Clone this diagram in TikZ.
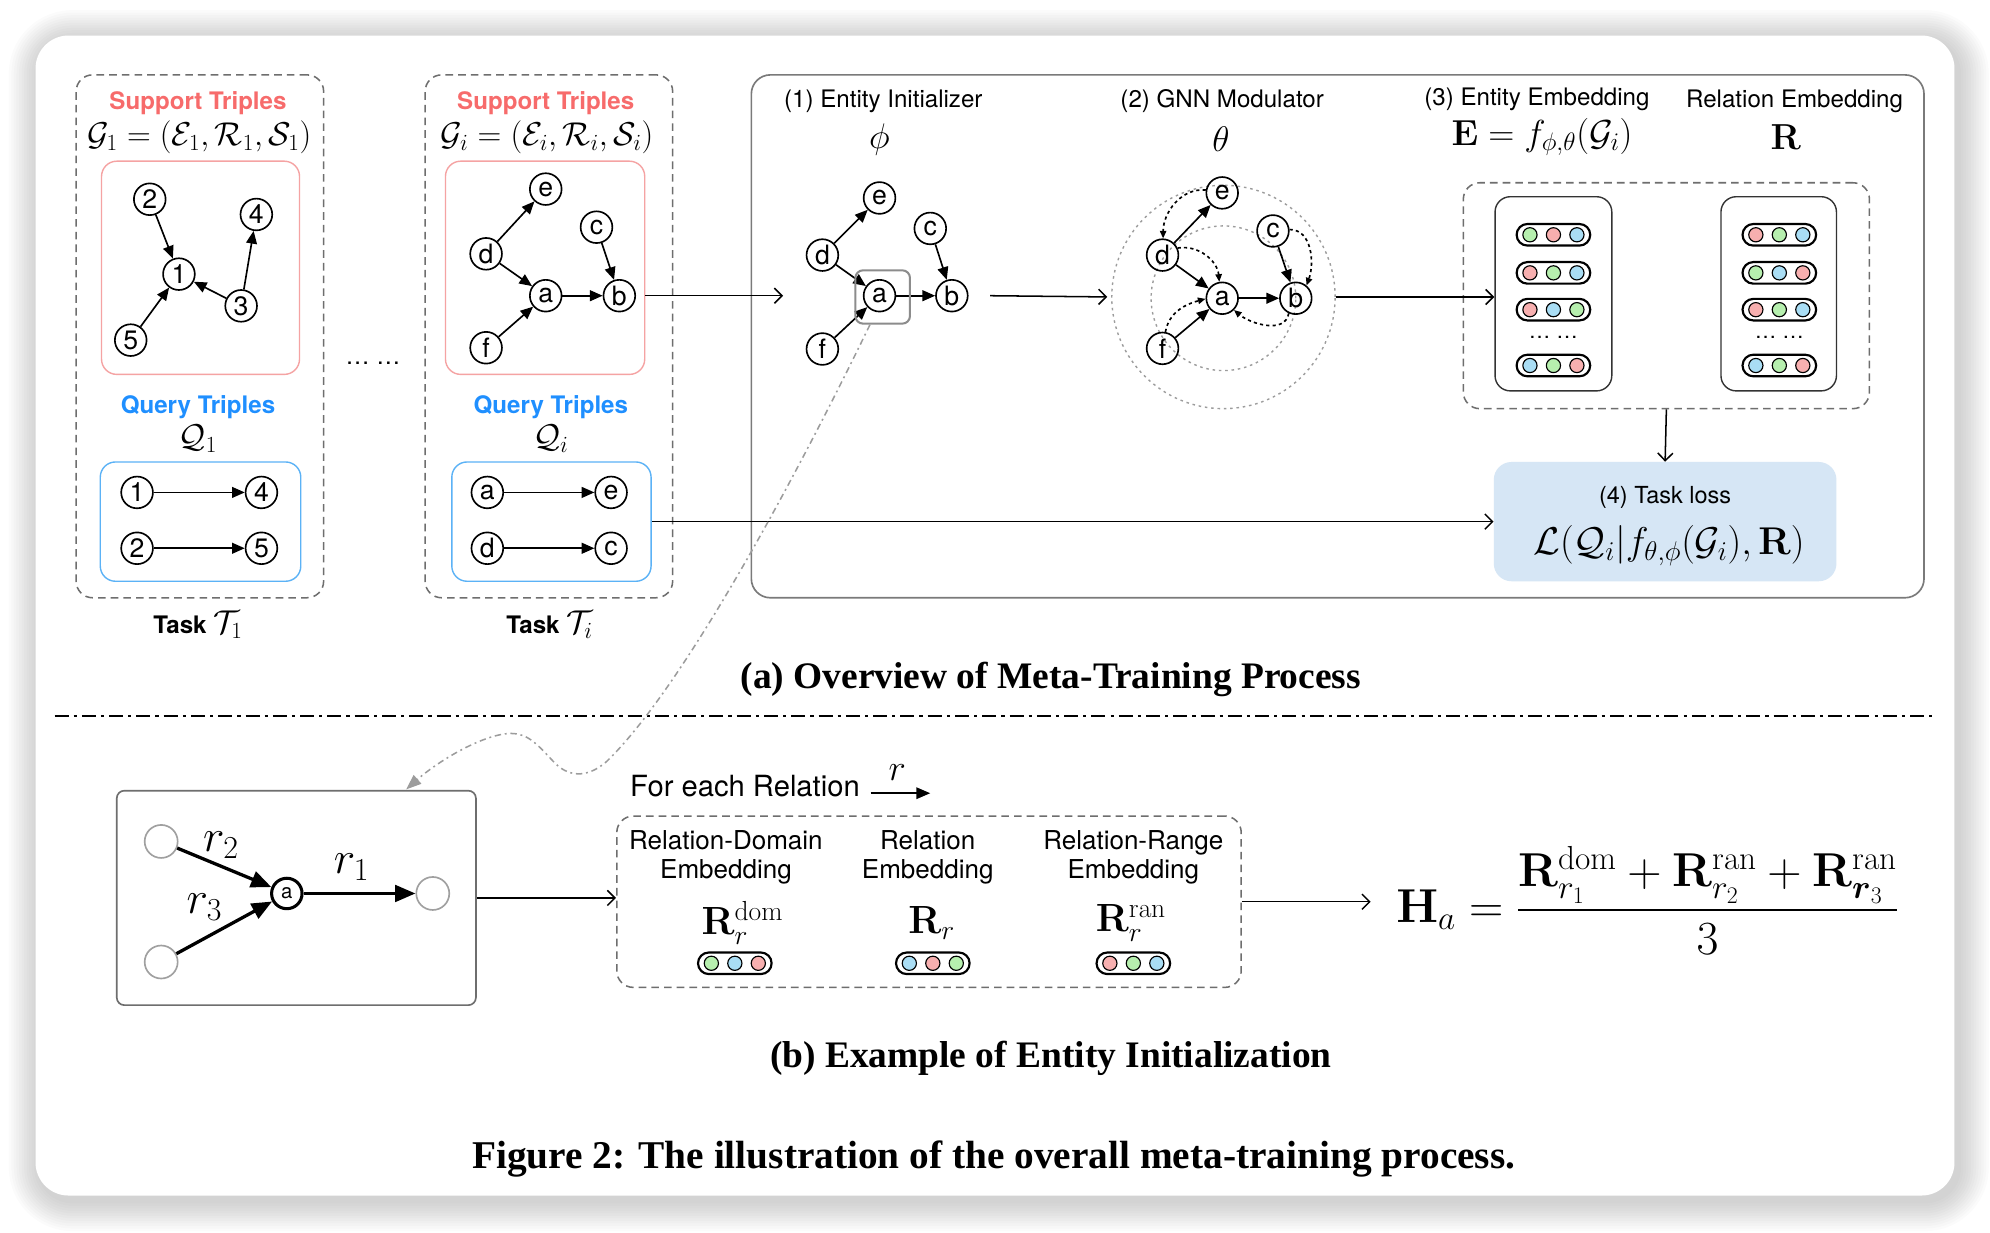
\documentclass[tikz,border=0pt]{standalone}
\usepackage{fix-cm}
\usepackage{amsmath,amssymb}
\usepackage[no-math]{fontspec}
\setmainfont{Liberation Serif}
\setsansfont{TeX Gyre Heros}
\usetikzlibrary{arrows.meta,calc}
\definecolor{supred}{HTML}{F76B6B}
\definecolor{pinkbox}{HTML}{F5A3A3}
\definecolor{qblue}{HTML}{1F8FFF}
\definecolor{bluebox}{HTML}{5BB2F6}
\definecolor{lossfill}{HTML}{D6E6F5}
\definecolor{dg}{HTML}{B6EFAE}
\definecolor{dr}{HTML}{F7AFAF}
\definecolor{db}{HTML}{A9DDF4}
\definecolor{boxgray}{HTML}{6E6E6E}
\definecolor{biggray}{HTML}{7A7A7A}
\definecolor{dotgray}{HTML}{9C9C9C}
\definecolor{hlgray}{HTML}{8C8C8C}
\definecolor{ggray}{HTML}{A0A0A0}
\newcommand\fsz[1]{\fontsize{#1}{#1}\selectfont}
\newcommand\sfn{\fsz{19}\sffamily}
\newcommand\sfb{\fsz{19}\sffamily\bfseries}
\tikzset{
  nd/.style={circle,draw,line width=1.3pt,minimum size=25pt,inner sep=0pt,font=\fsz{21}\sffamily},
  ed/.style={line width=1.3pt,-{Triangle[length=10pt,width=8.5pt]}},
  flow/.style={line width=1.2pt,-{Straight Barb[length=6pt,width=12pt,line width=1.2pt]}},
  dbox/.style={draw=boxgray,dash pattern=on 6pt off 4pt,line width=1.2pt,rounded corners=13pt,inner sep=0pt},
  pinkb/.style={draw=pinkbox,line width=1.1pt,rounded corners=12pt,inner sep=0pt},
  blueb/.style={draw=bluebox,line width=1.1pt,rounded corners=12pt,inner sep=0pt},
  panel/.style={draw=black!80,line width=1.1pt,rounded corners=12pt,inner sep=0pt},
  msg/.style={line width=1.3pt,dash pattern=on 2.5pt off 2.5pt,-{Triangle[length=6pt,width=5pt]}},
  dcirc/.style={circle,draw=dotgray,dash pattern=on 2pt off 3pt,line width=1.1pt,inner sep=0pt},
  bedge/.style={line width=2.6pt,-{Triangle[length=16pt,width=13pt]}},
  gnode/.style={circle,draw=ggray,line width=1.3pt,minimum size=26pt,inner sep=0pt},
  capt/.style={font=\fsz{29.5}\rmfamily\bfseries},
  coltxt/.style={font=\fontsize{20.5}{23.5}\selectfont\sffamily,align=center},
  pics/pill/.style n args={3}{code={
    \draw[line width=1.7pt,fill=white,rounded corners=8.5pt] (-29,-8.5) rectangle (29,8.5);
    \draw[line width=0.9pt,fill=#1] (-18.5,0) circle[radius=5.6pt];
    \draw[line width=0.9pt,fill=#2] (0,0) circle[radius=5.6pt];
    \draw[line width=0.9pt,fill=#3] (18.5,0) circle[radius=5.6pt];
  }}
}
\begin{document}
\begin{tikzpicture}[x=1pt,y=-1pt,every node/.style={inner sep=1pt}]
\useasboundingbox (0,0) rectangle (1568,971);
% card with shadow
\foreach \k [evaluate=\k as \rr using 26+2*\k, evaluate=\k as \dd using 2.0*\k] in {1,...,12}{
  \fill[black,opacity=0.014,rounded corners=\rr pt] ({28-\dd+3},{28-\dd+4}) rectangle ({1540+\dd+3},{942+\dd+4});
}
\fill[white,rounded corners=26pt] (28,28) rectangle (1540,942);

% ---------------- Task 1
\node[dbox,minimum width=195pt,minimum height=412pt] (T1) at (157.5,265) {};
\node[font=\sfb,text=supred] (st1) at (156,81) {Support Triples};
\node[font=\fsz{26}] (g1f) at (157,108) {$\mathcal{G}_1=(\mathcal{E}_1,\mathcal{R}_1,\mathcal{S}_1)$};
\node[pinkb,minimum width=156pt,minimum height=168pt] (P1) at (158,211) {};
\node[nd] (n2) at (118,157) {2};
\node[nd] (n4) at (202,169) {4};
\node[nd] (n1) at (141,216) {1};
\node[nd] (n3) at (190,241) {3};
\node[nd] (n5) at (103,268) {5};
\draw[ed] (n2) -- (n1);
\draw[ed] (n3) -- (n4);
\draw[ed] (n3) -- (n1);
\draw[ed] (n5) -- (n1);
\node[font=\sfb,text=qblue] (qt1) at (156,321) {Query Triples};
\node[font=\fsz{26}] (q1f) at (156,346) {$\mathcal{Q}_1$};
\node[blueb,minimum width=158pt,minimum height=94pt] (B1) at (158,411) {};
\node[nd] (q1) at (108,388) {1};
\node[nd] (q4) at (206,388) {4};
\node[nd] (q2) at (108,432) {2};
\node[nd] (q5) at (206,432) {5};
\draw[ed] (q1) -- (q4);
\draw[ed] (q2) -- (q5);
\node (tk1) at (156,492) {\sfb Task \fsz{26}$\mathcal{T}_1$};

\node[font=\sfn] (dots) at (294,286) {\ldots\ \ldots};

% ---------------- Task i
\node[dbox,minimum width=195pt,minimum height=412pt] (Ti) at (432.5,265) {};
\node[font=\sfb,text=supred] (sti) at (430,81) {Support Triples};
\node[font=\fsz{26}] (gif) at (431,108) {$\mathcal{G}_i=(\mathcal{E}_i,\mathcal{R}_i,\mathcal{S}_i)$};
\node[pinkb,minimum width=157pt,minimum height=168pt] (Pi) at (429.5,211) {};
\node[nd] (ie) at (430,149) {e};
\node[nd] (id) at (383,200) {d};
\node[nd] (ic) at (470,179) {c};
\node[nd] (ia) at (430,233) {a};
\node[nd] (ib) at (488,233) {b};
\node[nd] (if) at (383,274) {f};
\draw[ed] (id) -- (ie);
\draw[ed] (id) -- (ia);
\draw[ed] (ia) -- (ib);
\draw[ed] (ic) -- (ib);
\draw[ed] (if) -- (ia);
\node[font=\sfb,text=qblue] (qti) at (434,321) {Query Triples};
\node[font=\fsz{26}] (qif) at (434,346) {$\mathcal{Q}_i$};
\node[blueb,minimum width=157pt,minimum height=94pt] (Bi) at (434.5,411) {};
\node[nd] (qa) at (384,388) {a};
\node[nd] (qe) at (481.5,388) {e};
\node[nd] (qd) at (384,432) {d};
\node[nd] (qc) at (481.5,432) {c};
\draw[ed] (qa) -- (qe);
\draw[ed] (qd) -- (qc);
\node (tki) at (433,492) {\sfb Task \fsz{26}$\mathcal{T}_i$};

% ---------------- Overview box
\node[draw=biggray,line width=1.3pt,rounded corners=15pt,minimum width=924pt,minimum height=412pt,inner sep=0pt] (BIG) at (1054,265) {};

% (1) entity initializer
\node[font=\sfn] (l1) at (696,80) {(1) Entity Initializer};
\node[font=\fsz{28}] (phi) at (693,110) {$\phi$};
\node[nd] (ee) at (693,156) {e};
\node[nd] (ed) at (648,201) {d};
\node[nd] (ec) at (733,180) {c};
\node[nd] (ea) at (693,233) {a};
\node[nd] (eb) at (750,233) {b};
\node[nd] (ef) at (648,275) {f};
\draw[ed] (ed) -- (ee);
\draw[ed] (ed) -- (ea);
\draw[ed] (ea) -- (eb);
\draw[ed] (ec) -- (eb);
\draw[ed] (ef) -- (ea);
\node[draw=hlgray,line width=1.6pt,rounded corners=6pt,minimum width=43pt,minimum height=42pt,inner sep=0pt] (hl) at (695.5,234) {};
\coordinate (ein) at (617,233);
\draw[flow] (Pi.east |- ib) -- (ein);

% (2) GNN modulator
\node[font=\sfn] (l2) at (963,80) {(2) GNN Modulator};
\node[font=\fsz{28}] (tht) at (962,110) {$\theta$};
\node[dcirc,minimum size=176pt] (C1) at (964,234) {};
\node[dcirc,minimum size=114pt] (C2) at (964,235) {};
\node[nd] (ge) at (963,152) {e};
\node[nd] (gd) at (916,201) {d};
\node[nd] (gc) at (1003,182) {c};
\node[nd] (ga) at (963,235) {a};
\node[nd] (gb) at (1021,235) {b};
\node[nd] (gf) at (916,274.5) {f};
\draw[ed] (gd) -- (ge);
\draw[ed] (gd) -- (ga);
\draw[ed] (ga) -- (gb);
\draw[ed] (gc) -- (gb);
\draw[ed] (gf) -- (ga);
\draw[msg] (ge.170) to[out=175,in=90] (gd.88);
\draw[msg] (gd.25) to[out=10,in=95] (ga.100);
\draw[msg] (gc.5) to[out=0,in=70] (gb.50);
\draw[msg] (gb.-115) to[out=-100,in=-40] (ga.-45);
\draw[msg] (gf.80) to[out=80,in=195] (ga.182);
\draw[flow,shorten >=3pt] ([xshift=17pt]eb.east) -- (C1.west);

% (3) embeddings
\node[font=\sfn] (l3) at (1211,78) {(3) Entity Embedding};
\node[font=\fsz{28.5}] (ef3) at (1215,108) {$\mathbf{E}=f_{\phi,\theta}(\mathcal{G}_i)$};
\node[font=\sfn] (l3b) at (1414,80) {Relation Embedding};
\node[font=\fsz{28.5}] (rr3) at (1407,108) {$\mathbf{R}$};
\node[dbox,minimum width=320pt,minimum height=178pt] (EB) at (1313,233) {};
\node[panel,minimum width=92pt,minimum height=153pt] (LP) at (1224,231.5) {};
\node[panel,minimum width=91pt,minimum height=153pt] (RP) at (1401.5,231.5) {};
\pic (lp1) at (1224,185) {pill={dg}{dr}{db}};
\pic (lp2) at (1224,215) {pill={dr}{dg}{db}};
\pic (lp3) at (1224,244) {pill={dr}{db}{dg}};
\pic (lp4) at (1224,288) {pill={db}{dg}{dr}};
\node[font=\fsz{17}\sffamily] (ldots) at (1224,266) {\ldots\ \ldots};
\pic (rp1) at (1402,185) {pill={dr}{dg}{db}};
\pic (rp2) at (1402,215) {pill={dg}{db}{dr}};
\pic (rp3) at (1402,244) {pill={dr}{dg}{db}};
\pic (rp4) at (1402,288) {pill={db}{dg}{dr}};
\node[font=\fsz{17}\sffamily] (rdots) at (1402,266) {\ldots\ \ldots};
\draw[flow] (C1.east) -- (LP.west |- C1.east);

% (4) task loss
\node[fill=lossfill,rounded corners=14pt,minimum width=270pt,minimum height=94pt,inner sep=0pt] (TL) at (1312,411) {};
\node[font=\fsz{18.5}\sffamily] (l4) at (1312,392) {(4) Task loss};
\node[font=\fsz{30.5}] (lf) at (1315,430) {$\mathcal{L}(\mathcal{Q}_i|f_{\theta,\phi}(\mathcal{G}_i),\mathbf{R})$};
\draw[flow] (EB.south) -- (TL.north);
\draw[flow] (Bi.east) -- (TL.west);

% caption (a) and separator
\node[capt] (capa) at (828,535) {(a) Overview of Meta-Training Process};
\coordinate (sepL) at (43,564);
\coordinate (sepR) at (1522,564);
\draw[line width=1.3pt,dash pattern=on 11pt off 4pt on 2.5pt off 4pt] (sepL) -- (sepR);

% ---------------- (b)
\node[draw=boxgray,line width=1.3pt,rounded corners=6pt,minimum width=283pt,minimum height=169pt,inner sep=0pt] (BB) at (233.5,707.5) {};
\node[gnode] (bl1) at (127,663) {};
\node[gnode] (bl2) at (127,758) {};
\node[gnode] (bl3) at (341,704) {};
\node[circle,draw,line width=2.4pt,minimum size=24pt,inner sep=0pt,font=\fsz{16}\sffamily] (an) at (226,704) {a};
\draw[bedge] (bl1) -- (an);
\draw[bedge] (bl2) -- (an);
\draw[bedge] (an) -- (bl3);
\node[font=\fsz{36}] (r2) at (174,666) {$r_2$};
\node[font=\fsz{36}] (r3) at (161,715) {$r_3$};
\node[font=\fsz{36}] (r1) at (277,683) {$r_1$};

\coordinate (bin) at (320,622);
\draw[dotgray,line width=1.2pt,dash pattern=on 5pt off 3pt on 1.5pt off 3pt,-{Triangle[length=12pt,width=9pt]}]
  ([xshift=-10pt]hl.south) .. controls (630,370) and (540,540) .. (478,600)
  .. controls (462,614) and (447,612) .. (436,600)
  .. controls (422,585) and (415,577) .. (400,578)
  .. controls (378,580) and (345,600) .. (bin);

\node[font=\fsz{23}\sffamily] (fer) at (587,619) {For each Relation};
\coordinate (ra) at (686,625);
\coordinate (rb) at (733,625);
\draw[line width=1.6pt,-{Triangle[length=11pt,width=9pt]}] (ra) -- (rb);
\node[font=\fsz{29}] (rlab) at (707,609) {$r$};

\node[dbox,minimum width=492pt,minimum height=135pt] (DB) at (732,710.5) {};
\node[coltxt] (c1) at (572,675.5) {Relation-Domain\\Embedding};
\node[coltxt] (c2) at (731,675.5) {Relation\\Embedding};
\node[coltxt] (c3) at (893,675.5) {Relation-Range\\Embedding};
\node[font=\fsz{31}] (m1) at (585,727) {$\mathbf{R}_r^{\mathrm{dom}}$};
\node[font=\fsz{31}] (m2) at (734,727) {$\mathbf{R}_r$};
\node[font=\fsz{31}] (m3) at (891,727) {$\mathbf{R}_r^{\mathrm{ran}}$};
\pic (bp1) at (579,759) {pill={dg}{db}{dr}};
\pic (bp2) at (735,759) {pill={db}{dr}{dg}};
\pic (bp3) at (893,759) {pill={dr}{dg}{db}};
\draw[flow] (BB.east) -- (BB.east -| DB.west);

\node[font=\fsz{37.5},anchor=base west,inner sep=0pt] (Hf) at (1100,726.5)
  {$\mathbf{H}_a=\dfrac{\mathbf{R}^{\mathrm{dom}}_{r_1}+\mathbf{R}^{\mathrm{ran}}_{r_2}+\mathbf{R}^{\mathrm{ran}}_{\boldsymbol{r}_3}}{3}$};
\draw[flow,shorten >=20pt] (DB.east) -- (DB.east -| Hf.west);

\node[capt] (capb) at (828,834) {(b) Example of Entity Initialization};
\node[font=\fsz{31}\rmfamily\bfseries] (capf) at (783,913) {Figure 2: The illustration of the overall meta-training process.};
\end{tikzpicture}
\end{document}
